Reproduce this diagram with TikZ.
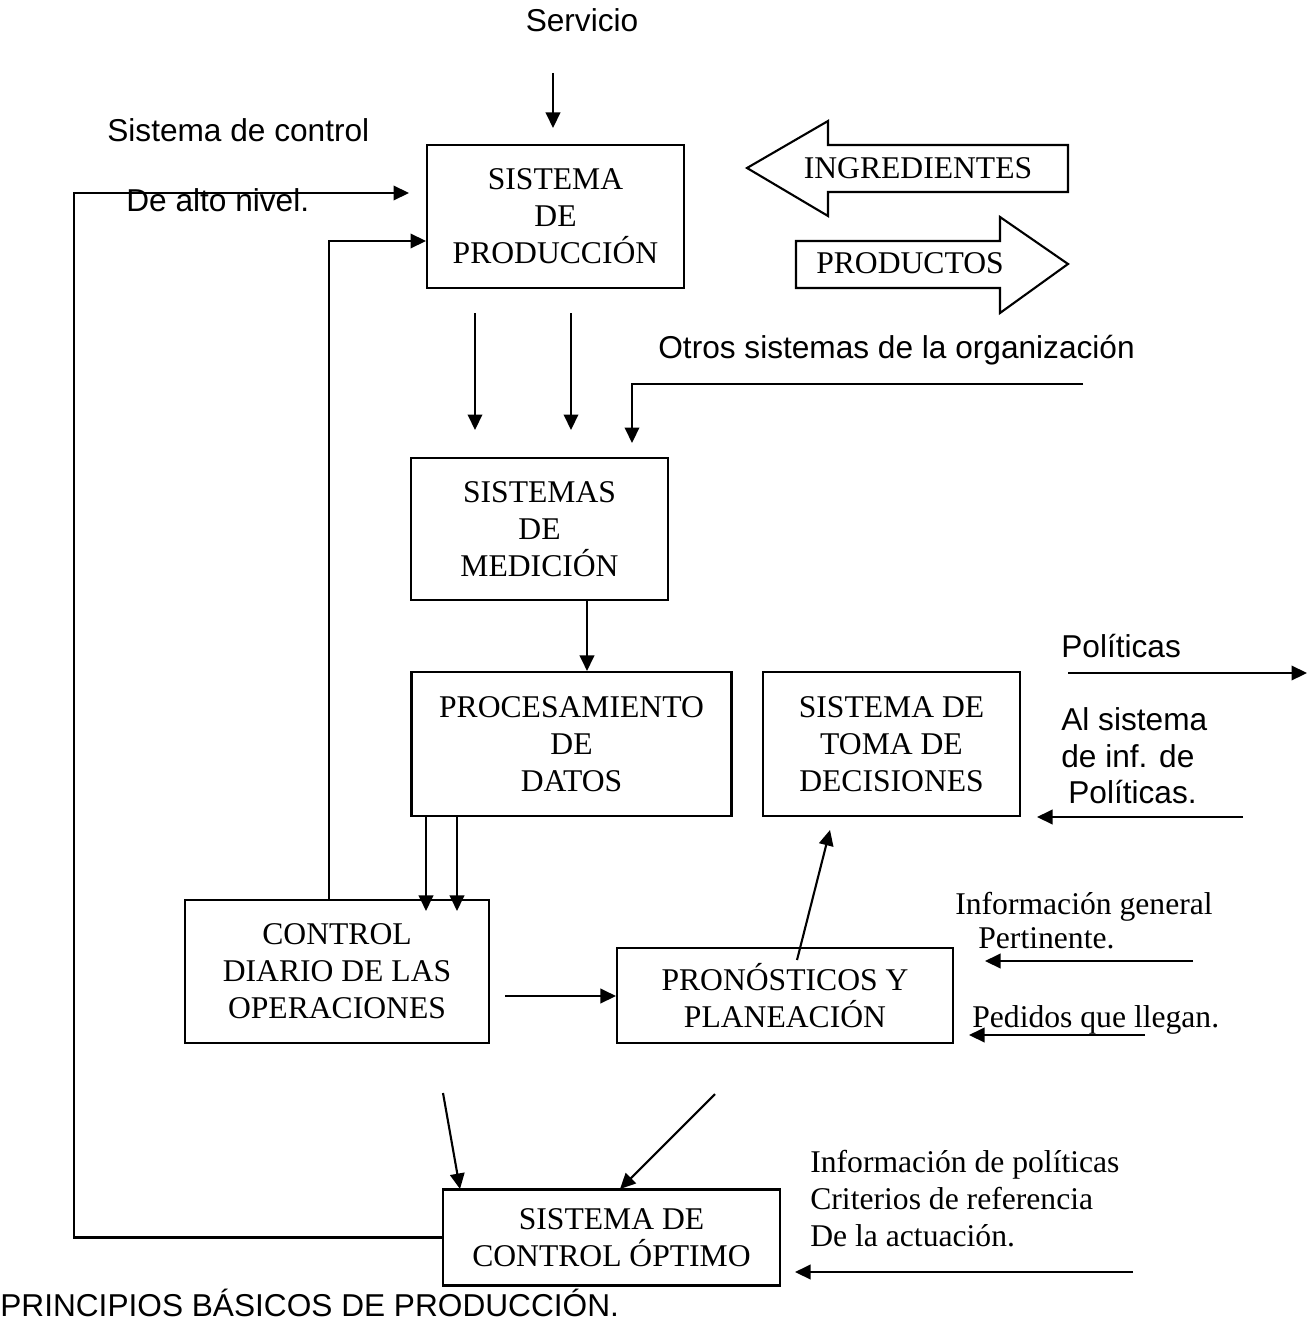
\documentclass[tikz,border=0pt]{standalone}
\usepackage{fontspec}
\setmainfont{Liberation Serif}
\setsansfont{Liberation Sans}
\usetikzlibrary{arrows.meta}
\newcommand{\dsz}{\fontsize{18}{21}\selectfont}
\tikzset{
  box/.style={draw, line width=1.2pt, align=center, font=\dsz, inner sep=0pt},
  stxt/.style={font=\sffamily\dsz, inner sep=0pt, anchor=base west},
  rtxt/.style={font=\dsz, inner sep=0pt, anchor=base west, align=left},
  arr/.style={line width=1.2pt, -{Triangle[length=0.31cm, width=0.29cm]}},
  bigarrow/.style={draw, line width=1.2pt, fill=white}
}
\begin{document}
\begin{tikzpicture}[x=0.02cm, y=-0.02cm]
\useasboundingbox (0,0) rectangle (1314,1324);

% boxes
\node[box, minimum width=5.14cm, minimum height=2.86cm] (prod) at (555.5,216.5) {SISTEMA\\DE\\PRODUCCIÓN};
\node[box, minimum width=5.14cm, minimum height=2.84cm] (med) at (539.5,529) {SISTEMAS\\DE\\MEDICIÓN};
\node[box, minimum width=6.4cm, minimum height=2.88cm] (proc) at (571.5,744) {PROCESAMIENTO\\DE\\DATOS};
\node[box, minimum width=5.14cm, minimum height=2.88cm] (toma) at (891.5,744) {SISTEMA DE\\TOMA DE\\DECISIONES};
\node[box, minimum width=6.08cm, minimum height=2.86cm] (diario) at (337,971.5) {CONTROL\\DIARIO DE LAS\\OPERACIONES};
\node[box, minimum width=6.72cm, minimum height=1.9cm] (pron) at (785,995.5) {PRONÓSTICOS Y\\PLANEACIÓN};
\node[box, minimum width=6.74cm, minimum height=1.92cm] (opt) at (611.5,1237.5) {SISTEMA DE\\CONTROL ÓPTIMO};

% sans labels
\node[font=\sffamily\dsz, inner sep=0pt, anchor=base] (serv) at (582,32) {Servicio};
\node[stxt] (sc1) at (107,142) {Sistema de control};
\node[stxt] (sc2) at (126,212) {De alto nivel.};
\node[stxt] (otros) at (658,358) {Otros sistemas de la organización};
\node[stxt] (pol) at (1061,657) {Políticas};
\node[stxt] (al1) at (1061,730) {Al sistema};
\node[stxt] (al2) at (1061,767) {de inf. de};
\node[stxt] (al3) at (1068,803) {Políticas.};
\node[stxt] (title) at (0,1316) {PRINCIPIOS BÁSICOS DE PRODUCCIÓN.};

% serif labels
\node[rtxt] (ig1) at (955,914) {Información general};
\node[rtxt] (ig2) at (978,948) {Pertinente.};
\node[rtxt] (ped) at (972,1027) {Pedidos que llegan.};
\node[rtxt] (ip1) at (810,1172) {Información de políticas};
\node[rtxt] (ip2) at (810,1209) {Criterios de referencia};
\node[rtxt] (ip3) at (810,1246) {De la actuación.};

% big arrows
\draw[bigarrow] (747,168) -- (828,121) -- (828,145) -- (1068,145) -- (1068,192) -- (828,192) -- (828,216) -- cycle;
\node[font=\dsz, inner sep=0pt, anchor=base] (ingr) at (918,179) {INGREDIENTES};
\draw[bigarrow] (796,241) -- (1000,241) -- (1000,217) -- (1068,264) -- (1000,313) -- (1000,288) -- (796,288) -- cycle;
\node[font=\dsz, inner sep=0pt, anchor=base] (prodt) at (910,274) {PRODUCTOS};

% free-end coordinates
\coordinate (s0) at (553,73);
\coordinate (s1) at (553,128);
\coordinate (pa1) at (475,313);
\coordinate (pa2) at (475,430);
\coordinate (pb1) at (571,313);
\coordinate (pb2) at (571,430);
\coordinate (o0) at (1083,384);
\coordinate (o1) at (632,384);
\coordinate (o2) at (632,443);
\coordinate (p0) at (1068,673);
\coordinate (p1) at (1307,673);
\coordinate (q0) at (1243,817);
\coordinate (q1) at (1037,817);
\coordinate (g0) at (1193,961);
\coordinate (g1) at (985,961);
\coordinate (h0) at (1145,1035);
\coordinate (h1) at (969,1035);
\coordinate (d0) at (505,996);
\coordinate (t0) at (797,960);
\coordinate (t1) at (830,830);
\coordinate (c0) at (443,1093);
\coordinate (c1) at (460,1189);
\coordinate (e0) at (715,1094);
\coordinate (e1) at (620,1189);
\coordinate (r0) at (1133,1272);
\coordinate (r1) at (795,1272);
\coordinate (loopA) at (74,1237.5);
\coordinate (loopB) at (74,193);
\coordinate (loopC) at (409,193);
\coordinate (inA) at (329,241);
\coordinate (inB) at (426,241);

% connectors
\draw[arr] (s0) -- (s1);
\draw[arr] (pa1) -- (pa2);
\draw[arr] (pb1) -- (pb2);
\draw[arr] (o0) -- (o1) -- (o2);
\draw[arr] (med.south -| 587,0) -- (proc.north -| 587,0);
\draw[arr] (p0) -- (p1);
\draw[arr] (q0) -- (q1);
\draw[arr] (proc.south -| 426,0) -- ([yshift=-0.24cm]diario.north -| 426,0);
\draw[arr] (proc.south -| 457,0) -- ([yshift=-0.24cm]diario.north -| 457,0);
\draw[arr] (d0) -- (d0 -| pron.west);
\draw[arr] (t0) -- (t1);
\draw[arr] (g0) -- (g1);
\draw[arr] (h0) -- (h1);
\draw[arr] (c0) -- (c1);
\draw[arr] (e0) -- (e1);
\draw[arr] (r0) -- (r1);
\draw[arr] (opt.west) -- (loopA) -- (loopB) -- (loopC);
\draw[arr] (diario.north -| inA) -- (inA) -- (inB);
\end{tikzpicture}
\end{document}
